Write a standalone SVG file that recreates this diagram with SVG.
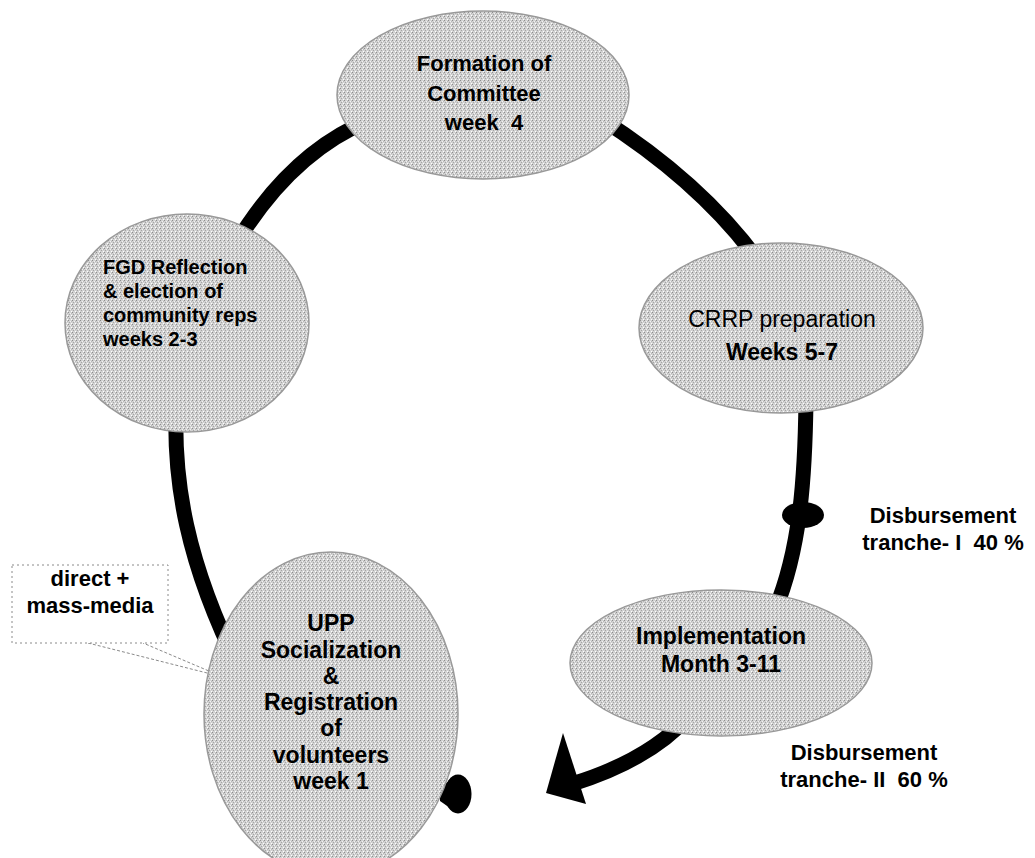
<svg xmlns="http://www.w3.org/2000/svg" width="1035" height="858" viewBox="0 0 1035 858">
<defs>
<pattern id="stip" width="4" height="4" patternUnits="userSpaceOnUse">
<rect width="4" height="4" fill="#d2d2d2"/>
<rect x="0" y="0" width="1" height="1" fill="#8e8e8e"/>
<rect x="2" y="1" width="1" height="1" fill="#f2f2f2"/>
<rect x="1" y="2" width="1" height="1" fill="#a4a4a4"/>
<rect x="3" y="3" width="1" height="1" fill="#ffffff"/>
<rect x="3" y="1" width="1" height="1" fill="#b8b8b8"/>
</pattern>
<style>
.node{fill:url(#stip);stroke:#999;stroke-width:1.5}
.arc{fill:none;stroke:#000;stroke-width:15}
.t{font-family:"Liberation Sans",Arial,sans-serif;font-weight:bold;fill:#000}
.n{font-weight:normal}
.c{text-anchor:middle}
.f20{font-size:20px}.f22{font-size:22px}.f23{font-size:23px}
.call{fill:#fff;stroke:#8a8a8a;stroke-width:1;stroke-dasharray:2 3}
.callp{fill:none;stroke:#8a8a8a;stroke-width:1;stroke-dasharray:3 2}
</style>
</defs>
<rect width="1035" height="858" fill="#fff"/>
<g id="connectors">
<path class="arc" d="M 235 245 Q 291 152 370 120"/>
<path class="arc" d="M 600 118 Q 707 186 765 270"/>
<path class="arc" d="M 176 410 C 174 480 185 560 240 670"/>
<path class="arc" d="M 806 400 C 805 480 800 550 775 610"/>
<path class="arc" d="M 690 715 Q 650 760 572 784"/>
<polygon points="563,733 586,804 546,793" fill="#000"/>
<ellipse cx="803" cy="515" rx="21" ry="13" fill="#000"/>
<polygon points="440,786 450,781 450,808 440,801" fill="#000"/>
<ellipse cx="458" cy="794" rx="13.5" ry="19.5" fill="#000"/>
</g>
<g id="callout">
<path class="callp" d="M 88 643 L 223 677 L 143 643"/>
<rect class="call" x="12" y="565" width="156" height="78"/>
<text class="t c f22" x="90" y="586">direct +</text>
<text class="t c f22" x="90" y="613">mass-media</text>
</g>
<g id="node-formation">
<ellipse class="node" cx="483" cy="95" rx="146" ry="84"/>
<text class="t c f22" x="484" y="71">Formation of</text>
<text class="t c f22" x="484" y="101">Committee</text>
<text class="t c f22" x="484" y="130">week&#160; 4</text>
</g>
<g id="node-fgd">
<ellipse class="node" cx="187" cy="323" rx="122" ry="109"/>
<text class="t f20" x="103" y="274">FGD Reflection</text>
<text class="t f20" x="103" y="298">&amp; election of</text>
<text class="t f20" x="103" y="322">community reps</text>
<text class="t f20" x="103" y="346">weeks 2-3</text>
</g>
<g id="node-crrp">
<ellipse class="node" cx="781" cy="328" rx="142" ry="85"/>
<text class="t n c f23" x="782" y="327">CRRP preparation</text>
<text class="t c f23" x="782" y="360">Weeks 5-7</text>
</g>
<g id="node-implementation">
<ellipse class="node" cx="721" cy="663" rx="151" ry="73"/>
<text class="t c f23" x="721" y="644">Implementation</text>
<text class="t c f23" x="721" y="672">Month 3-11</text>
</g>
<g id="node-upp">
<ellipse class="node" cx="331" cy="714" rx="127" ry="162"/>
<text class="t c f23" x="331" y="631">UPP</text>
<text class="t c f23" x="331" y="658">Socialization</text>
<text class="t c f23" x="331" y="684">&amp;</text>
<text class="t c f23" x="331" y="710">Registration</text>
<text class="t c f23" x="331" y="736">of</text>
<text class="t c f23" x="331" y="763">volunteers</text>
<text class="t c f23" x="331" y="789">week 1</text>
</g>
<g id="labels">
<text class="t c f22" x="943" y="523">Disbursement</text>
<text class="t c f22" x="943" y="550">tranche- I&#160; 40 %</text>
<text class="t c f22" x="864" y="760">Disbursement</text>
<text class="t c f22" x="864" y="787">tranche- II&#160; 60 %</text>
</g>
</svg>
